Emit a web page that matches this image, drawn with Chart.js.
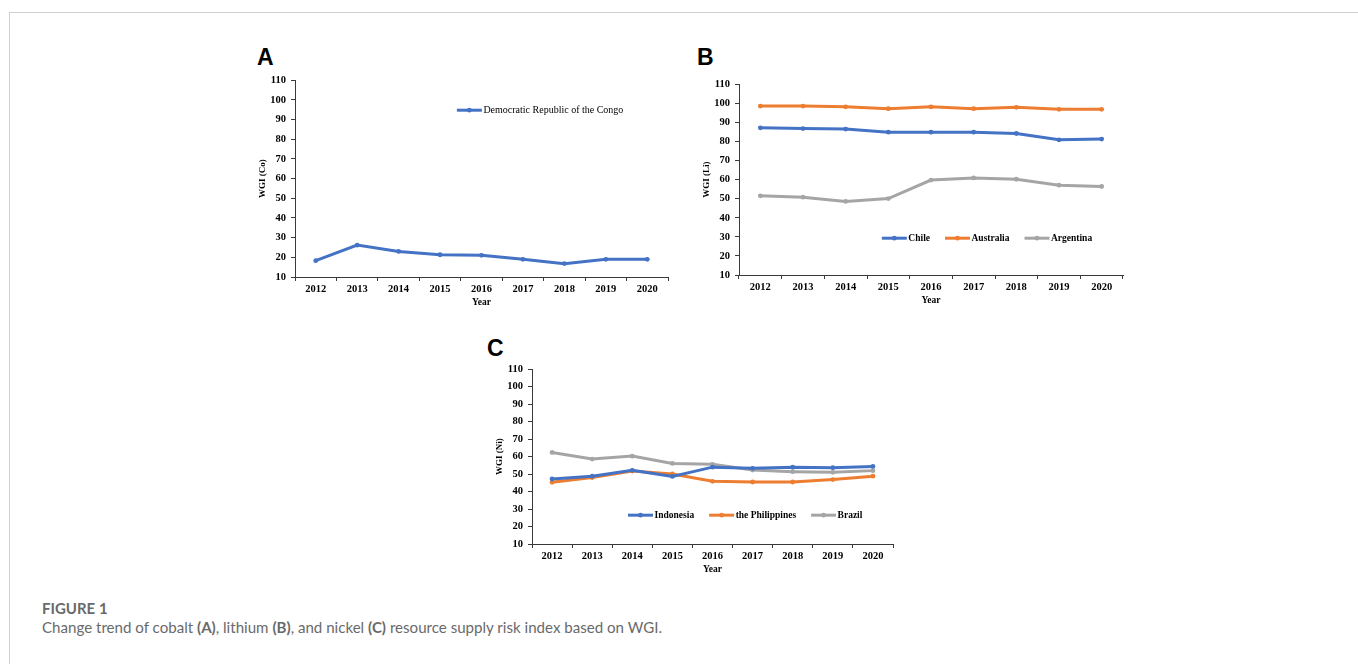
<!DOCTYPE html>
<html>
<head>
<meta charset="utf-8">
<script src="https://cdn.jsdelivr.net/npm/chart.js@4.4.1/dist/chart.umd.min.js"></script>
<style>
  html, body { margin: 0; padding: 0; background: #fff; }
  body { width: 1358px; height: 664px; position: relative; overflow: hidden; }
  .frame { position: absolute; left: 9px; top: 12px; right: 0; bottom: 0;
           border-top: 1px solid #cfcfcf; border-left: 1px solid #cfcfcf; }
  .panel { position: absolute; }
  .tag { position: absolute; font: bold 23px "Liberation Sans", Arial, sans-serif; color: #000; line-height: 1; }
  .caption { position: absolute; left: 42px; top: 599px; color: #6a6a6a; font-family: Lato, "Open Sans", sans-serif; }
  .caption .fig { font-weight: bold; font-size: 15px; line-height: 18px; }
  .caption .txt { font-size: 15.1px; line-height: 20px; }
</style>
</head>
<body>
<div class="frame"></div>

<div class="tag" style="left:257px; top:46px;">A</div>
<div class="tag" style="left:697px; top:46px;">B</div>
<div class="tag" style="left:487px; top:337px;">C</div>

<canvas id="chartA" class="panel" style="left:250px; top:69px;" width="428" height="243"></canvas>
<canvas id="chartB" class="panel" style="left:694px; top:73px;" width="439" height="237"></canvas>
<canvas id="chartC" class="panel" style="left:487px; top:358px;" width="416" height="221"></canvas>

<div class="caption">
  <div class="fig">FIGURE 1</div>
  <div class="txt">Change trend of cobalt <b>(A)</b>, lithium <b>(B)</b>, and nickel <b>(C)</b> resource supply risk index based on WGI.</div>
</div>

<script>
// ---- data -------------------------------------------------------------
const years = ['2012', '2013', '2014', '2015', '2016', '2017', '2018', '2019', '2020'];

// WGI-based supply risk index, cobalt
const cobaltCongo = [18.3, 26.2, 23.0, 21.3, 21.0, 19.0, 16.8, 19.0, 19.0];

// lithium
const lithiumChile     = [87.2, 86.8, 86.5, 84.9, 84.9, 84.9, 84.2, 80.9, 81.3];
const lithiumAustralia = [98.6, 98.6, 98.2, 97.2, 98.2, 97.2, 97.9, 96.9, 96.9];
const lithiumArgentina = [51.5, 50.8, 48.6, 50.1, 59.8, 60.9, 60.2, 57.1, 56.4];

// nickel
const nickelIndonesia   = [47.2, 48.8, 52.2, 48.7, 54.0, 53.3, 54.0, 53.7, 54.4];
const nickelPhilippines = [45.3, 48.0, 51.8, 50.1, 45.9, 45.5, 45.5, 46.9, 48.8];
const nickelBrazil      = [62.4, 58.6, 60.3, 56.1, 55.6, 52.3, 51.4, 51.0, 52.0];

const yMin = 10, yMax = 110, yStep = 10;

// ---- styling ----------------------------------------------------------
const BLUE = '#4472C4', ORANGE = '#ED7D31', GRAY = '#A5A5A5';
const AXIS = '#3a3a3a';
const SERIF = '"Liberation Serif", "Times New Roman", serif';

function series(label, data, color) {
  return {
    label, data,
    borderColor: color, backgroundColor: color,
    borderWidth: 3, tension: 0,
    pointRadius: 2.4, pointHoverRadius: 2.4,
    pointBorderWidth: 0, pointBackgroundColor: color
  };
}

// Legend drawn inside the plot area, one row, starting at a fractional position
const inlineLegend = {
  id: 'inlineLegend',
  afterDatasetsDraw(chart, args, opts) {
    const { ctx, chartArea: a } = chart;
    let x = a.left + opts.x * (a.right - a.left);
    const y = a.top + opts.y * (a.bottom - a.top);
    ctx.save();
    ctx.font = opts.font;
    ctx.textBaseline = 'middle';
    ctx.textAlign = 'left';
    chart.data.datasets.forEach((ds) => {
      const lineLen = 25;
      ctx.strokeStyle = ds.borderColor;
      ctx.lineWidth = 3;
      ctx.beginPath();
      ctx.moveTo(x, y);
      ctx.lineTo(x + lineLen, y);
      ctx.stroke();
      ctx.fillStyle = ds.borderColor;
      ctx.beginPath();
      ctx.arc(x + lineLen / 2, y, 2.4, 0, Math.PI * 2);
      ctx.fill();
      ctx.fillStyle = '#000';
      ctx.fillText(ds.label, x + lineLen + 1.5, y + 0.5);
      x += lineLen + 1.5 + ctx.measureText(ds.label).width + opts.gap;
    });
    ctx.restore();
  }
};

function makeChart(id, datasets, yTitle, legendOpts) {
  return new Chart(document.getElementById(id), {
    type: 'line',
    data: { labels: years, datasets },
    plugins: [inlineLegend],
    options: {
      responsive: false,
      animation: false,
      layout: { padding: { top: 10, right: 10, left: 0, bottom: 0 } },
      plugins: {
        legend: { display: false },
        tooltip: { enabled: false },
        inlineLegend: legendOpts
      },
      scales: {
        x: {
          type: 'category',
          offset: true,
          afterFit(scale) { scale.height = 35; },
          grid: { offset: true, drawOnChartArea: false, drawTicks: true, tickLength: 4, color: AXIS, lineWidth: 1 },
          border: { display: true, color: AXIS, width: 1 },
          ticks: { color: '#000', padding: 2, maxRotation: 0, font: { family: SERIF, size: 10.5, weight: 'bold' } },
          title: { display: true, text: 'Year', color: '#000', padding: { top: 0, bottom: 4 },
                   font: { family: SERIF, size: 9.5, weight: 'bold' } }
        },
        y: {
          min: yMin, max: yMax,
          afterFit(scale) { scale.width = 45; },
          grid: { drawOnChartArea: false, drawTicks: true, tickLength: 4, color: AXIS, lineWidth: 1 },
          border: { display: true, color: AXIS, width: 1 },
          ticks: { stepSize: yStep, color: '#000', padding: 5, font: { family: SERIF, size: 10.5, weight: 'bold' } },
          title: { display: true, text: yTitle, color: '#000', padding: { top: 7, bottom: 0 },
                   font: { family: SERIF, size: 9, weight: 'bold' } }
        }
      }
    }
  });
}

makeChart('chartA',
  [series('Democratic Republic of the Congo', cobaltCongo, BLUE)],
  'WGI (Co)',
  { x: 0.434, y: 0.152, gap: 16, font: '10px ' + SERIF });

makeChart('chartB',
  [series('Chile', lithiumChile, BLUE),
   series('Australia', lithiumAustralia, ORANGE),
   series('Argentina', lithiumArgentina, GRAY)],
  'WGI (Li)',
  { x: 0.372, y: 0.807, gap: 15, font: 'bold 9.5px ' + SERIF });

makeChart('chartC',
  [series('Indonesia', nickelIndonesia, BLUE),
   series('the Philippines', nickelPhilippines, ORANGE),
   series('Brazil', nickelBrazil, GRAY)],
  'WGI (Ni)',
  { x: 0.266, y: 0.835, gap: 15, font: 'bold 9.5px ' + SERIF });
</script>
</body>
</html>
